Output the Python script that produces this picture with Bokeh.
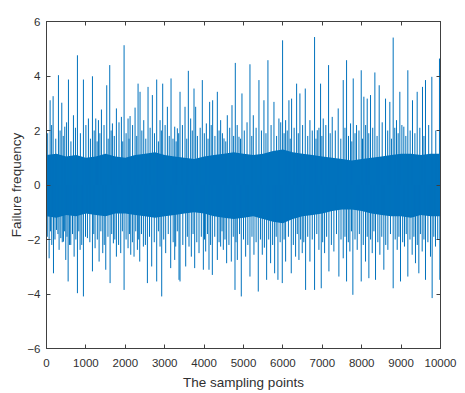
from bokeh.plotting import figure
from bokeh.models import LinearAxis, Range1d, FixedTicker
from bokeh.embed import file_html
from bokeh.resources import INLINE

# ---- data ----
# tall upward spikes (sample index, value)
up_x = [92, 168, 303, 388, 464, 557, 684, 785, 937, 1064, 1166, 1250, 1318, 1394, 1529, 1605,
        1673, 1774, 1901, 1969, 2070, 2121, 2248, 2324, 2374, 2468, 2577, 2687, 2797, 2882, 2949,
        3068, 3161, 3254, 3321, 3389, 3516, 3600, 3659, 3744, 3786, 3955, 4057, 4141, 4217, 4336,
        4420, 4505, 4589, 4708, 4792, 4885, 4961, 5164, 5249, 5392, 5519, 5620, 5773, 5899, 5992,
        6069, 6153, 6221, 6348, 6432, 6568, 6686, 6804, 6872, 6956, 7024, 7159, 7252, 7404, 7531,
        7616, 7717, 7785, 7869, 7988, 8055, 8140, 8224, 8334, 8444, 8605, 8714, 8799, 8884, 8968,
        9069, 9171, 9289, 9408, 9543, 9619, 9780, 9974]
up_y = [3.11, 3.26, 4.03, 3.02, 2.14, 3.87, 2.56, 4.76, 3.87, 2.44, 3.99, 2.44, 2.38, 2.77, 3.66, 4.40,
        2.26, 2.81, 2.50, 5.13, 2.44, 2.53, 2.84, 3.72, 3.42, 2.38, 3.60, 3.30, 3.87, 2.38, 3.72,
        2.87, 3.91, 2.14, 2.08, 3.42, 2.87, 4.19, 2.44, 3.54, 2.87, 3.85, 2.26, 3.05, 3.11, 3.42,
        2.38, 1.71, 2.56, 2.93, 4.48, 1.77, 3.36, 4.43, 2.56, 3.85, 3.11, 4.58, 3.05, 2.44, 5.31,
        2.38, 3.11, 3.17, 3.72, 3.36, 3.54, 2.38, 5.43, 2.01, 3.72, 2.44, 4.40, 2.50, 2.81, 3.85,
        4.58, 2.26, 3.91, 2.20, 4.21, 3.24, 3.17, 3.30, 4.13, 3.66, 3.17, 3.05, 5.41, 2.38, 3.42,
        2.14, 4.21, 3.11, 3.42, 3.60, 3.85, 3.97, 4.64]

# tall downward spikes
lo_x = [67, 134, 177, 253, 320, 363, 430, 489, 549, 616, 701, 785, 853, 937, 1039, 1166, 1233,
        1335, 1428, 1504, 1614, 1698, 1774, 1884, 1969, 2070, 2138, 2222, 2307, 2366, 2459, 2561,
        2670, 2797, 2882, 2924, 3025, 3152, 3279, 3363, 3254, 3389, 3533, 3617, 3676, 3761, 3871,
        3981, 4040, 4124, 4209, 4336, 4420, 4488, 4572, 4691, 4784, 4843, 4944, 5054, 5164, 5265,
        5375, 5477, 5587, 5688, 5790, 5874, 5984, 6069, 6212, 6322, 6407, 6491, 6576, 6686, 6804,
        6914, 6973, 7058, 7168, 7294, 7421, 7531, 7616, 7700, 7776, 7886, 7988, 8097, 8182, 8267,
        8351, 8461, 8562, 8664, 8799, 8901, 8985, 9086, 9171, 9281, 9365, 9450, 9535, 9619, 9746,
        9788, 9873, 9983]
lo_y = [-2.69, -2.20, -3.24, -1.65, -2.38, -1.95, -2.08, -2.75, -3.54, -2.20, -2.63, -3.97, -2.38,
        -4.09, -1.95, -3.17, -2.32, -2.81, -2.50, -3.11, -3.60, -2.14, -2.63, -2.50, -3.85, -2.32,
        -2.56, -2.63, -2.38, -2.81, -2.26, -3.60, -2.99, -3.54, -2.26, -4.09, -2.50, -3.05, -2.26,
        -3.48, -2.75, -3.54, -2.99, -2.26, -2.63, -3.05, -2.50, -3.11, -2.44, -3.11, -3.30, -2.75,
        -2.26, -2.38, -2.87, -2.81, -3.85, -2.75, -4.09, -2.63, -3.36, -2.56, -3.91, -2.56, -3.48,
        -2.87, -3.24, -3.48, -3.60, -2.81, -3.24, -2.63, -2.75, -2.50, -3.85, -2.81, -3.85, -2.38,
        -3.79, -2.50, -3.17, -2.44, -3.36, -2.69, -3.54, -2.44, -4.03, -2.38, -3.54, -2.81, -3.42,
        -2.50, -3.48, -2.56, -3.11, -2.38, -3.79, -2.38, -3.54, -2.26, -3.36, -2.56, -2.87, -3.24,
        -2.44, -3.48, -2.63, -4.15, -2.26, -3.48]

# medium spikes (estimated, they form the lighter haze around the band)
mid_up_x = [30, 130, 235, 345, 425, 510, 620, 735, 860, 1000, 1115, 1210, 1285, 1355, 1460, 1565,
            1640, 1720, 1840, 1935, 2020, 2095, 2185, 2290, 2420, 2520, 2630, 2740, 2840, 2915,
            3010, 3115, 3210, 3290, 3355, 3450, 3560, 3700, 3830, 3900, 4005, 4100, 4180, 4275,
            4380, 4465, 4550, 4650, 4750, 4840, 4925, 5020, 5090, 5210, 5320, 5455, 5570, 5700,
            5840, 5945, 6030, 6110, 6185, 6285, 6390, 6500, 6630, 6745, 6840, 6915, 6990, 7090,
            7200, 7330, 7470, 7575, 7665, 7750, 7830, 7930, 8020, 8100, 8180, 8280, 8390, 8520,
            8660, 8755, 8840, 8925, 9020, 9120, 9230, 9350, 9475, 9580, 9700, 9880]
mid_up_y = [1.9, 2.2, 1.7, 2.0, 1.8, 2.3, 1.6, 2.1, 1.9, 2.2, 1.7, 2.0, 1.6, 1.9, 2.2, 1.7,
            2.0, 1.8, 2.3, 1.6, 1.9, 1.7, 2.2, 1.8, 2.0, 1.7, 2.1, 1.9, 1.6, 2.0,
            2.2, 1.8, 1.7, 1.6, 1.9, 2.2, 1.7, 2.0, 1.8, 2.1, 1.9, 1.7, 2.2, 1.8,
            2.0, 1.9, 1.6, 2.1, 1.8, 2.2, 1.7, 2.0, 2.3, 1.8, 2.1, 2.0, 1.9, 2.2,
            1.8, 2.3, 1.9, 2.0, 1.7, 2.1, 1.9, 2.2, 1.8, 2.0, 1.7, 2.1, 1.8, 2.2,
            1.9, 2.0, 1.7, 2.1, 1.8, 1.6, 1.9, 2.0, 1.7, 2.2, 1.9, 2.1, 1.8, 2.3,
            2.0, 1.7, 2.1, 1.9, 2.2, 1.8, 2.0, 1.9, 2.1, 1.8, 2.2, 2.0]
mid_lo_x = [20, 100, 215, 290, 400, 460, 520, 585, 660, 745, 820, 895, 990, 1100, 1200, 1290,
            1380, 1465, 1560, 1655, 1735, 1830, 1925, 2020, 2105, 2180, 2265, 2340, 2410, 2510,
            2615, 2735, 2840, 2975, 3090, 3215, 3320, 3460, 3575, 3720, 3815, 3930, 4010, 4085,
            4165, 4270, 4380, 4455, 4530, 4630, 4740, 4810, 4900, 5000, 5110, 5215, 5320, 5430,
            5530, 5640, 5740, 5830, 5930, 6030, 6140, 6265, 6365, 6450, 6530, 6630, 6745, 6860,
            7010, 7110, 7230, 7360, 7475, 7575, 7660, 7740, 7830, 7940, 8040, 8140, 8225, 8310,
            8410, 8510, 8610, 8730, 8850, 8945, 9040, 9130, 9225, 9325, 9410, 9490, 9580, 9680,
            9830, 9930]
mid_lo_y = [-1.9, -1.7, -2.0, -1.8, -2.1, -1.7, -1.9, -2.2, -1.8, -2.0, -1.7, -2.2, -1.9, -2.1,
            -1.8, -2.0, -1.7, -2.2, -1.9, -1.8, -2.0, -2.2, -1.7, -2.0, -1.8, -2.1, -1.7, -2.0,
            -1.8, -2.2, -1.9, -2.1, -1.7, -2.0, -1.8, -2.1, -1.7, -2.2, -1.9, -1.8, -2.1, -1.9,
            -2.0, -1.8, -2.2, -1.9, -2.1, -1.7, -2.0, -2.2, -1.9, -2.1, -1.8, -2.0, -2.2, -1.9,
            -2.1, -2.0, -2.3, -2.0, -2.2, -1.9, -2.1, -2.0, -1.9, -2.2, -1.8, -2.0, -2.1, -1.9,
            -2.0, -1.8, -2.1, -1.9, -2.2, -1.8, -2.0, -1.9, -2.1, -1.7, -2.0, -1.8, -2.2, -1.9,
            -2.0, -1.7, -2.1, -1.9, -2.2, -1.8, -2.0, -1.9, -2.1, -1.8, -2.0, -1.9, -2.2, -1.8,
            -2.0, -2.1, -1.9, -2.0]

# dense core of the signal (envelope every 250 samples)
band_x = [i * 250 for i in range(41)]
band_hi = [1.1, 1.15, 1.05, 1.1, 1.0, 1.05, 1.15, 1.05, 1.0, 1.1, 1.15, 1.2, 1.1, 1.05, 1.0, 0.95,
           1.05, 1.1, 1.15, 1.2, 1.15, 1.1, 1.15, 1.25, 1.3, 1.2, 1.15, 1.1, 1.05, 1.0, 0.95, 0.9,
           0.95, 1.0, 1.05, 1.1, 1.15, 1.15, 1.1, 1.15, 1.15]
band_lo = [-1.15, -1.2, -1.1, -1.15, -1.05, -1.1, -1.15, -1.05, -1.05, -1.1, -1.15, -1.2, -1.15,
           -1.1, -1.05, -1.0, -1.05, -1.15, -1.2, -1.25, -1.2, -1.15, -1.25, -1.35, -1.4, -1.25,
           -1.15, -1.1, -1.05, -0.95, -0.9, -0.9, -0.95, -1.05, -1.1, -1.15, -1.15, -1.2, -1.1,
           -1.15, -1.15]

x_ticks = [0, 1000, 2000, 3000, 4000, 5000, 6000, 7000, 8000, 9000, 10000]
y_ticks = [-6, -4, -2, 0, 2, 4, 6]

BLUE = "#0072BD"
LINE = "#404040"
TEXT = "#303030"
FONT = "Liberation Sans"

p = figure(width=457, height=393, output_backend="svg", toolbar_location=None,
           x_range=Range1d(0, 10000), y_range=Range1d(-6, 6),
           min_border_left=46, min_border_right=17, min_border_top=21, min_border_bottom=45)

p.varea(x=band_x, y1=band_lo, y2=band_hi, color=BLUE)
p.segment(x0=mid_up_x, y0=[0] * len(mid_up_x), x1=mid_up_x, y1=mid_up_y, line_color=BLUE, line_width=1)
p.segment(x0=mid_lo_x, y0=[0] * len(mid_lo_x), x1=mid_lo_x, y1=mid_lo_y, line_color=BLUE, line_width=1)
p.segment(x0=up_x, y0=[0] * len(up_x), x1=up_x, y1=up_y, line_color=BLUE, line_width=1)
p.segment(x0=lo_x, y0=[0] * len(lo_x), x1=lo_x, y1=lo_y, line_color=BLUE, line_width=1)

p.grid.visible = False
p.background_fill_color = "white"
p.border_fill_color = "white"
p.outline_line_color = LINE
p.outline_line_width = 1

for ax in (p.xaxis[0], p.yaxis[0]):
    ax.axis_line_color = LINE
    ax.major_tick_line_color = LINE
    ax.major_tick_in = 4
    ax.major_tick_out = 0
    ax.minor_tick_line_color = None
    ax.major_label_text_font = FONT
    ax.major_label_text_font_size = "11.5px"
    ax.major_label_text_color = TEXT
    ax.axis_label_text_font = FONT
    ax.axis_label_text_font_size = "13.5px"
    ax.axis_label_text_font_style = "normal"
    ax.axis_label_text_color = TEXT

p.xaxis[0].ticker = FixedTicker(ticks=x_ticks)
p.yaxis[0].ticker = FixedTicker(ticks=y_ticks)
p.xaxis[0].axis_label = "The sampling points"
p.yaxis[0].axis_label = "Failure frequency"
p.xaxis[0].major_label_standoff = 10
p.yaxis[0].major_label_standoff = 6
p.xaxis[0].axis_label_standoff = 5
p.yaxis[0].axis_label_standoff = 0

top = LinearAxis(ticker=FixedTicker(ticks=x_ticks), major_label_text_color=None,
                 major_tick_in=4, major_tick_out=0, minor_tick_line_color=None,
                 axis_line_color=LINE, major_tick_line_color=LINE, major_label_standoff=0)
right = LinearAxis(ticker=FixedTicker(ticks=y_ticks), major_label_text_color=None,
                   major_tick_in=4, major_tick_out=0, minor_tick_line_color=None,
                   axis_line_color=LINE, major_tick_line_color=LINE, major_label_standoff=0)
p.add_layout(top, "above")
p.add_layout(right, "right")

open("out.html", "w").write(file_html(p, INLINE))
